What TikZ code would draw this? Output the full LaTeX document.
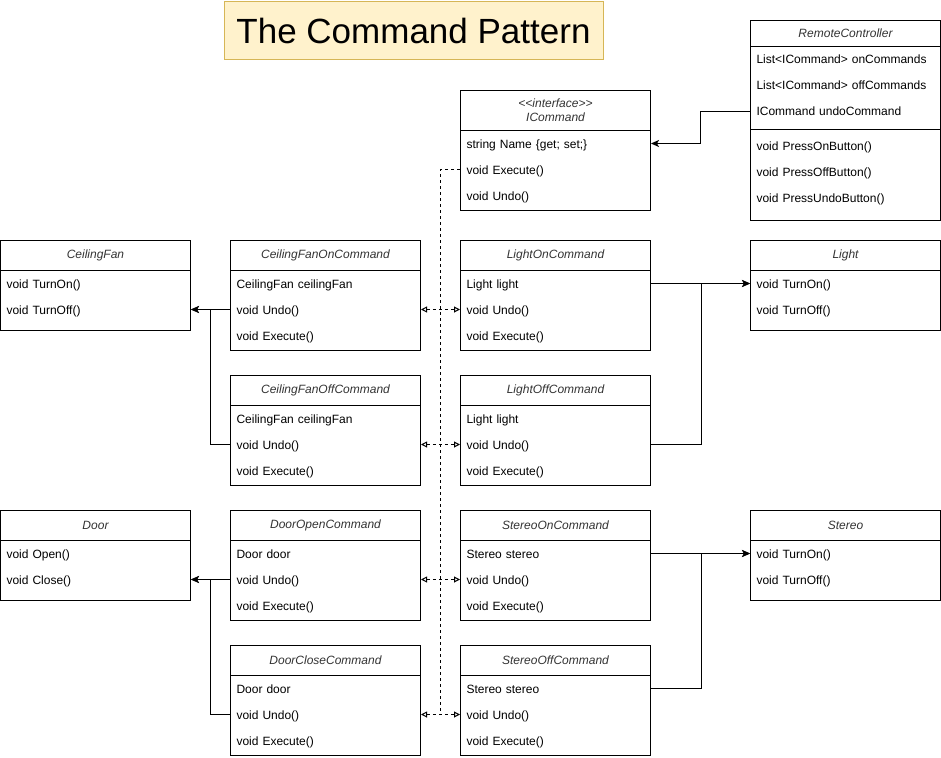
\documentclass[tikz,border=0pt]{standalone}
\usepackage{fontspec}
\setmainfont{Liberation Sans}
\usepackage{tikz}
\usetikzlibrary{
    calc,
    arrows.meta
}
\definecolor{notefill}{HTML}{FFF2CC}
\definecolor{noteline}{HTML}{D6B656}
\definecolor{headtext}{HTML}{333333}
\tikzset{
    % style for the frame, title bar and member rows of a class
    classbox/.style={draw, fill=white, anchor=north west, minimum width=190pt, inner sep=0pt},
    classhead/.style={draw, text=headtext, anchor=north west, minimum width=190pt, inner sep=0pt,
        align=center, font=\fontsize{12}{14}\selectfont\itshape},
    classrow/.style={anchor=north west, text width=178pt, inner xsep=6pt, inner ysep=0pt,
        minimum height=26pt, text height=9pt, text depth=0pt, align=left},
    % style for an association with a filled head
    assoc/.style={-{Stealth[length=8pt, width=7pt, inset=2pt]}},
    % style for the dashed realization lines
    realize/.style={dash pattern=on 3pt off 3pt},
    realizeboth/.style={realize,
        {Triangle[open, length=6pt, width=6pt]}-{Triangle[open, length=6pt, width=6pt]}}
}
% name, x, y, height, title, rows (optional: height of the title bar)
\newcommand{\umlclass}[7][30]{%
    \node[classbox, minimum height=#5pt] (#2) at (#3,#4) {};
    \node[classhead, minimum height=#1pt] (#2-head) at (#3,#4) {#6};
    \foreach \txt [count=\i] in {#7} {
        \node[classrow] (#2-\i) at (#3,#4+#1+26*\i-26) {\txt};
    }
}

\begin{document}
\begin{tikzpicture}[x=1pt, y=-1pt, line width=1pt, font=\fontsize{12}{14}\selectfont]
    \useasboundingbox (0,0) rectangle (941,757);
    \node[draw=noteline, fill=notefill, minimum width=379pt, minimum height=58pt, inner sep=0pt,
        font=\fontsize{35}{42}\selectfont] (title) at (413.5,31) {The Command Pattern};

    \umlclass[40]{icmd}{460}{90}{120}{{<\kern0pt<interface>\kern0pt>}\\ICommand}
        {string Name \{get; set;\}, void Execute(), void Undo()}
    \umlclass[26]{remote}{750}{20}{200}{RemoteController}
        {List<ICommand> onCommands, List<ICommand> offCommands, ICommand undoCommand}
    \draw (remote-3.south west) ++(0,4) -- ++(190,0);
    \foreach \txt [count=\i] in {void PressOnButton(), void PressOffButton(), void PressUndoButton()} {
        \node[classrow] (remote-m\i) at (750,132+26*\i-26) {\txt};
    }

    \umlclass{fan}{0}{240}{90}{CeilingFan}{void TurnOn(), void TurnOff()}
    \umlclass{fanon}{230}{240}{110}{CeilingFanOnCommand}{CeilingFan ceilingFan, void Undo(), void Execute()}
    \umlclass{fanoff}{230}{375}{110}{CeilingFanOffCommand}{CeilingFan ceilingFan, void Undo(), void Execute()}
    \umlclass{lon}{460}{240}{110}{LightOnCommand}{Light light, void Undo(), void Execute()}
    \umlclass{loff}{460}{375}{110}{LightOffCommand}{Light light, void Undo(), void Execute()}
    \umlclass{light}{750}{240}{90}{Light}{void TurnOn(), void TurnOff()}

    \umlclass{door}{0}{510}{90}{Door}{void Open(), void Close()}
    \umlclass{dopen}{230}{510}{110}{DoorOpenCommand}{Door door, void Undo(), void Execute()}
    \umlclass{dclose}{230}{645}{110}{DoorCloseCommand}{Door door, void Undo(), void Execute()}
    \umlclass{son}{460}{510}{110}{StereoOnCommand}{Stereo stereo, void Undo(), void Execute()}
    \umlclass{soff}{460}{645}{110}{StereoOffCommand}{Stereo stereo, void Undo(), void Execute()}
    \umlclass{stereo}{750}{510}{90}{Stereo}{void TurnOn(), void TurnOff()}

    % realizations of ICommand
    \draw[realize] (icmd-2.west) -| ($(dclose-2.east)!.5!(soff-2.west)$);
    \foreach \a/\b in {fanon/lon, fanoff/loff, dopen/son, dclose/soff} {
        \draw[realizeboth] (\a-2.east) -- (\b-2.west);
    }

    % associations
    \draw[assoc] (remote-3.west) -- ++(-50,0) |- (icmd-1.east);
    \draw[assoc] (fanon-2.west) -- (fan-2.east);
    \draw[assoc] (fanoff-2.west) -- ++(-20,0) |- (fan-2.east);
    \draw[assoc] (dopen-2.west) -- (door-2.east);
    \draw[assoc] (dclose-2.west) -- ++(-20,0) |- (door-2.east);
    \draw[assoc] (lon-1.east) -- (light-1.west);
    \draw[assoc] (loff-2.east) -- ++(50,0) |- (light-1.west);
    \draw[assoc] (son-1.east) -- (stereo-1.west);
    \draw[assoc] (soff-1.east) -- ++(50,0) |- (stereo-1.west);
\end{tikzpicture}
\end{document}
